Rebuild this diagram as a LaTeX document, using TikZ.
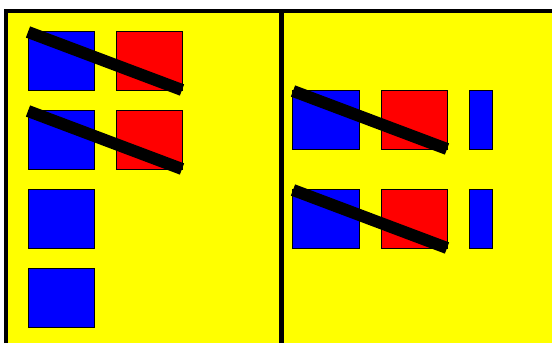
\documentclass[tikz,border=0pt]{standalone}
\definecolor{pyellow}{RGB}{255,255,0}
\definecolor{pblue}{RGB}{0,0,255}
\definecolor{pred}{RGB}{255,0,0}
\begin{document}
\begin{tikzpicture}[x=1pt,y=-1pt,
  bbox/.style={draw=black,line width=0.8pt,fill=pblue},
  rbox/.style={draw=black,line width=0.8pt,fill=pred},
  slash/.style={line width=12pt,black},
  frame/.style={line width=4.5pt,black}]
\useasboundingbox (0,0) rectangle (552,343);
\fill[white] (0,0) rectangle (552,343);
\fill[pyellow] (6,11) rectangle (552,343);
\draw[frame] (6,343) coordinate (bl) -- (6,11) coordinate (tl) -- (552,11) coordinate (tr);
\draw[frame] (281.5,11) coordinate (dt) -- (281.5,343) coordinate (db);
% left panel
\path[bbox] (28,31) rectangle (94,90);
\path[bbox] (28,110) rectangle (94,169);
\path[bbox] (28,189) rectangle (94,248);
\path[bbox] (28,268) rectangle (94,327);
\path[rbox] (116,31) rectangle (182,90);
\path[rbox] (116,110) rectangle (182,169);
% right panel
\path[bbox] (292,90) rectangle (359,149);
\path[bbox] (292,189) rectangle (359,248);
\path[rbox] (381,90) rectangle (447,149);
\path[rbox] (381,189) rectangle (447,248);
\path[bbox] (469,90) rectangle (492,149);
\path[bbox] (469,189) rectangle (492,248);
% slashes
\draw[slash] (28,32) -- (182,90);
\draw[slash] (28,111) -- (182,169);
\draw[slash] (293,91) -- (447,149);
\draw[slash] (293,190) -- (447,248);
\end{tikzpicture}
\end{document}
